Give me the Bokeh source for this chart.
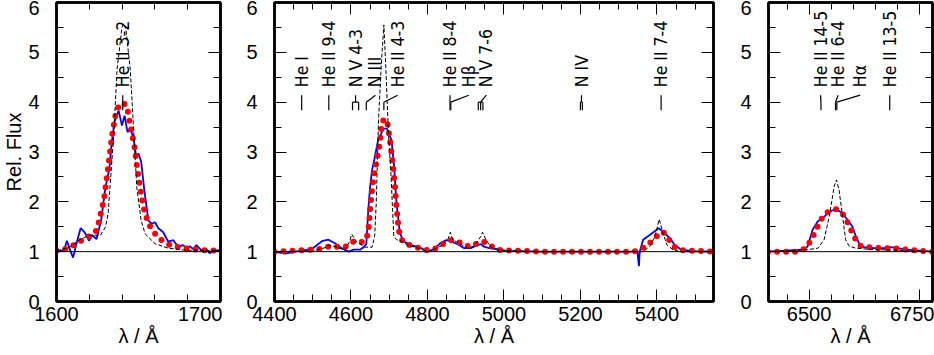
import numpy as np
from bokeh.plotting import figure
from bokeh.layouts import row
from bokeh.models import LinearAxis, FixedTicker, Span, Range1d, CustomLabelingPolicy
from bokeh.core.properties import value
from bokeh.embed import file_html
from bokeh.resources import INLINE

# ---------------- data ----------------
# Panel 1: He II 1640
w1_obs = [1600.0, 1604.6, 1606.3, 1608.3, 1610.1, 1612.7, 1614.7, 1617.3, 1619.8, 1621.8, 1624.4,
          1627.2, 1629.8, 1632.3, 1633.5, 1635.3, 1637.9, 1639.9, 1641.5, 1643.3, 1645.0, 1647.0,
          1648.6, 1650.0, 1651.6, 1653.6, 1656.0, 1658.1, 1660.1, 1662.1, 1665.1, 1668.1, 1671.2,
          1674.2, 1677.2, 1679.2, 1681.3, 1683.3, 1685.3, 1688.3, 1691.3, 1693.3, 1696.4, 1699.4, 1700.0]
f1_obs = [1.02, 1.02, 1.22, 1.03, 0.88, 1.23, 1.47, 1.38, 1.22, 1.33, 1.25, 1.63, 2.28, 2.68, 3.14,
          3.6, 3.83, 3.53, 3.73, 3.4, 3.47, 3.27, 2.91, 2.97, 2.81, 2.22, 1.63, 1.56, 1.59, 1.47, 1.39,
          1.2, 1.23, 1.1, 1.13, 1.07, 1.11, 1.05, 1.13, 1.03, 1.05, 0.97, 1.02, 1.03, 1.03]
w1_mod = [1600, 1607.7, 1613.7, 1619.8, 1623.8, 1625.8, 1628.8, 1631.5, 1633.9, 1636.3, 1638.0,
          1640.3, 1642.9, 1644.6, 1647.4, 1649.0, 1651.0, 1653.0, 1656.0, 1660.1, 1664.1, 1670.2,
          1678.2, 1688.3, 1700]
f1_mod = [1.02, 1.07, 1.2, 1.3, 1.39, 1.59, 2.02, 2.68, 3.34, 3.8, 3.92, 3.99, 3.93, 3.6, 3.14, 2.74,
          2.28, 1.89, 1.56, 1.36, 1.23, 1.11, 1.07, 1.03, 1.02]
w1_mod2 = [1600, 1607.7, 1613.7, 1619.8, 1626.8, 1629.8, 1631.5, 1632.3, 1634.9, 1636.9, 1639.9,
           1641.0, 1642.3, 1645.0, 1647.0, 1649.0, 1651.6, 1654.0, 1660.1, 1668.1, 1678.2, 1700]
f1_mod2 = [1.02, 1.08, 1.23, 1.33, 1.33, 1.49, 1.76, 2.15, 3.34, 4.65, 5.5, 5.58, 5.47, 4.65, 3.47,
           2.28, 1.63, 1.36, 1.16, 1.07, 1.03, 1.02]

# Panel 2: optical
w2_obs = [4400, 4428, 4462, 4497, 4524, 4541, 4558, 4576, 4594, 4607, 4624, 4633, 4640, 4645, 4650,
          4655, 4661, 4671, 4685, 4694, 4706, 4713, 4719, 4728, 4737, 4758, 4784, 4801, 4818, 4835,
          4848, 4861, 4879, 4896, 4913, 4931, 4940, 4948, 4961, 4983, 5009, 5100, 5200, 5300, 5349,
          5353, 5355, 5364, 5382, 5405, 5416, 5434, 5447, 5464, 5494, 5548]
f2_obs = [1.0, 0.96, 1.01, 1.05, 1.21, 1.24, 1.17, 1.07, 1.0, 1.04, 1.04, 1.09, 1.15, 1.8, 2.3, 2.63,
          2.85, 3.24, 3.47, 3.47, 3.24, 2.7, 1.97, 1.37, 1.21, 1.13, 1.07, 1.0, 1.05, 1.18, 1.23, 1.21,
          1.15, 1.07, 1.07, 1.13, 1.15, 1.1, 1.07, 1.05, 1.01, 1.0, 1.0, 1.0, 1.0, 0.71, 1.0, 1.24,
          1.34, 1.47, 1.4, 1.27, 1.13, 1.04, 1.01, 1.0]
w2_mod = [4400, 4480, 4524, 4541, 4558, 4576, 4589, 4602, 4615, 4628, 4640, 4646, 4650, 4655, 4660,
          4668, 4675, 4681, 4688, 4695, 4703, 4710, 4715, 4719, 4724, 4728, 4737, 4754, 4775, 4801,
          4818, 4835, 4853, 4866, 4879, 4896, 4913, 4931, 4944, 4957, 4974, 4992, 5100, 5340, 5354,
          5373, 5390, 5408, 5416, 5429, 5447, 5464, 5548]
f2_mod = [1.0, 1.03, 1.06, 1.1, 1.11, 1.08, 1.11, 1.19, 1.22, 1.19, 1.24, 1.45, 1.84, 2.24, 2.55,
          2.85, 3.15, 3.6, 3.67, 3.6, 3.17, 2.71, 2.3, 1.9, 1.5, 1.31, 1.19, 1.13, 1.08, 1.03, 1.05,
          1.13, 1.21, 1.24, 1.21, 1.13, 1.1, 1.17, 1.21, 1.17, 1.07, 1.03, 1.0, 1.0, 1.04, 1.11, 1.24,
          1.37, 1.4, 1.27, 1.09, 1.03, 1.0]
w2_mod2 = [4400, 4500, 4532, 4541, 4560, 4584, 4596, 4602, 4615, 4637, 4655, 4662, 4666, 4672, 4679,
           4686, 4691, 4698, 4705, 4708, 4712, 4719, 4732, 4749, 4775, 4801, 4835, 4853, 4860, 4866,
           4887, 4905, 4922, 4940, 4944, 4953, 4966, 4983, 5100, 5364, 5382, 5395, 5406, 5416, 5426,
           5442, 5460, 5548]
f2_mod2 = [1.0, 1.01, 1.08, 1.13, 1.1, 1.03, 1.2, 1.35, 1.19, 1.09, 1.09, 1.31, 1.97, 3.64, 4.71,
           5.55, 4.71, 3.37, 2.5, 1.97, 1.31, 1.24, 1.21, 1.13, 1.07, 1.0, 1.11, 1.24, 1.39, 1.24,
           1.15, 1.07, 1.11, 1.31, 1.39, 1.24, 1.09, 1.03, 1.0, 1.0, 1.11, 1.31, 1.65, 1.37, 1.14,
           1.04, 1.0, 1.0]

# Panel 3: H-alpha
w3_obs = [6407, 6489, 6497, 6508, 6520, 6531, 6542, 6553, 6565, 6576, 6587, 6598, 6606, 6613, 6625,
          6647, 6670, 6685, 6700, 6722, 6752, 6780]
f3_obs = [1.0, 1.04, 1.11, 1.44, 1.61, 1.67, 1.77, 1.83, 1.83, 1.77, 1.64, 1.51, 1.31, 1.17, 1.09,
          1.07, 1.07, 1.09, 1.07, 1.04, 1.02, 1.0]
w3_mod = [6407, 6475, 6493, 6505, 6516, 6527, 6538, 6550, 6561, 6572, 6583, 6595, 6606, 6617, 6632,
          6662, 6692, 6722, 6780]
f3_mod = [1.0, 1.0, 1.07, 1.24, 1.44, 1.64, 1.77, 1.83, 1.85, 1.81, 1.67, 1.44, 1.24, 1.12, 1.09,
          1.07, 1.07, 1.04, 1.0]
w3_mod2 = [6407, 6497, 6520, 6534, 6546, 6557, 6562, 6568, 6576, 6583, 6591, 6606, 6647, 6692, 6780]
f3_mod2 = [1.0, 1.04, 1.07, 1.24, 1.71, 2.31, 2.44, 2.24, 1.71, 1.24, 1.11, 1.07, 1.04, 1.03, 1.0]

# Line identifications: label, component wavelengths, label position
id1_text = ["He II 3-2"]
id1_lines = [[1640.4]]
id1_pos = [1640.4]
id2_text = ["He I", "He II 9-4", "N V 4-3", "N III", "He II 4-3", "He II 8-4", "H\u03b2", "N V 7-6",
            "N IV", "He II 7-4"]
id2_lines = [[4471], [4542], [4604, 4620], [4640], [4686], [4859], [4861], [4933, 4939, 4945],
             [5200, 5205], [5411]]
id2_pos = [4471, 4542, 4612, 4664, 4722, 4859, 4908, 4954, 5203, 5411]
id3_text = ["He II 14-5", "He II 6-4", "H\u03b1", "He II 13-5"]
id3_lines = [[6527], [6560], [6563], [6683]]
id3_pos = [6526, 6566, 6616, 6683]

# Axes
x1_range = (1600, 1700)
x1_major = [1600, 1700]
x1_minor = [1620, 1640, 1660, 1680]
x2_range = (4400, 5548)
x2_major = [4400, 4600, 4800, 5000, 5200, 5400]
x2_minor = list(range(4450, 5550, 50))
x3_range = (6408, 6780)
x3_major = [6500, 6750]
x3_minor = list(range(6450, 6800, 50))
y_range = (0, 6)
y_major = [0, 1, 2, 3, 4, 5, 6]
y_minor = [0.5, 1.5, 2.5, 3.5, 4.5, 5.5]
continuum = 1.0

# ---------------- styling ----------------
FONT = "Liberation Sans"
ID_FONT = "Liberation Sans Narrow, DejaVu Sans Condensed, sans-serif"
FH = 299
Y_FOOT, Y_BAR, Y_TOP, Y_TEXT = 3.84, 4.0, 4.14, 4.3
Y_STANDOFF = 17
X_STANDOFF = 5

HIDE_ALL = """
try {
  for (const i of Array.from(indices)) { indices.unset(i) }
} catch (e) {}
return indices
"""


def style_axis(ax, labels, standoff):
    ax.major_tick_in = 12
    ax.major_tick_out = 0
    ax.minor_tick_in = 7
    ax.minor_tick_out = 0
    ax.major_tick_line_color = "black"
    ax.minor_tick_line_color = "black"
    ax.major_tick_line_width = 1
    ax.minor_tick_line_width = 1
    ax.axis_line_color = "black"
    ax.axis_line_width = 2.5
    ax.major_label_text_font = FONT
    ax.major_label_text_color = "black"
    ax.axis_label_text_font = FONT
    ax.axis_label_text_font_size = "20px"
    ax.axis_label_text_font_style = "normal"
    ax.axis_label_text_color = "black"
    if labels:
        ax.major_label_text_font_size = "20px"
        ax.major_label_standoff = standoff
    else:
        ax.major_label_text_font_size = "0px"
        ax.major_label_standoff = 0
        ax.major_label_policy = CustomLabelingPolicy(code=HIDE_ALL)


def panel(xr, xmaj, xmin, fw, bl, br, ylabel, obs, mod, mod2, ids):
    p = figure(x_range=Range1d(*xr), y_range=Range1d(*y_range), frame_width=fw, frame_height=FH,
               min_border_left=bl, min_border_right=br, min_border_top=2, min_border_bottom=0,
               output_backend="svg", toolbar_location=None,
               background_fill_color="white", border_fill_color="white")
    p.xgrid.visible = False
    p.ygrid.visible = False
    p.outline_line_color = "black"
    p.outline_line_width = 2.5

    xt = FixedTicker(ticks=xmaj, minor_ticks=xmin)
    yt = FixedTicker(ticks=y_major, minor_ticks=y_minor)
    xa = p.xaxis[0]
    ya = p.yaxis[0]
    xa.ticker = xt
    ya.ticker = yt
    style_axis(xa, True, X_STANDOFF)
    xa.axis_label = "\u03bb / \u00c5"
    xa.axis_label_standoff = 1
    style_axis(ya, True, Y_STANDOFF)
    if ylabel:
        ya.axis_label = ylabel
        ya.axis_label_standoff = 0
    top = LinearAxis(ticker=xt)
    style_axis(top, False, 0)
    p.add_layout(top, "above")
    right = LinearAxis(ticker=yt)
    style_axis(right, False, 0)
    p.add_layout(right, "right")

    p.add_layout(Span(location=continuum, dimension="width", line_color="black", line_width=1))

    p.line(obs[0], obs[1], line_color="#0000ff", line_width=1.8)
    p.line(mod[0], mod[1], line_color="#ff0000", line_width=6, line_dash="0 9", line_cap="round")
    p.line(mod2[0], mod2[1], line_color="black", line_width=1, line_dash="4 2")

    names, lines, pos = ids
    x0, y0, x1, y1 = [], [], [], []
    for comps, lp in zip(lines, pos):
        lo, hi = min(comps), max(comps)
        for c in comps:
            x0.append(c); y0.append(Y_FOOT); x1.append(c); y1.append(Y_BAR)
        if len(comps) > 1:
            x0.append(lo); y0.append(Y_BAR); x1.append(hi); y1.append(Y_BAR)
        ctr = 0.5 * (lo + hi)
        x0.append(ctr); y0.append(Y_BAR); x1.append(lp); y1.append(Y_TOP)
    p.segment(x0=x0, y0=y0, x1=x1, y1=y1, line_color="black", line_width=1.2)
    p.text(x=pos, y=[Y_TEXT] * len(pos), text=names, angle=np.pi / 2, text_align="left",
           text_baseline="middle", text_font=value(ID_FONT), text_font_size="17.5px",
           text_color="black")
    return p


p1 = panel(x1_range, x1_major, x1_minor, 164, 54, 2, "Rel. Flux",
           (w1_obs, f1_obs), (w1_mod, f1_mod), (w1_mod2, f1_mod2), (id1_text, id1_lines, id1_pos))
p2 = panel(x2_range, x2_major, x2_minor, 439, 52, 2, None,
           (w2_obs, f2_obs), (w2_mod, f2_mod), (w2_mod2, f2_mod2), (id2_text, id2_lines, id2_pos))
p3 = panel(x3_range, x3_major, x3_minor, 164, 53, 2, None,
           (w3_obs, f3_obs), (w3_mod, f3_mod), (w3_mod2, f3_mod2), (id3_text, id3_lines, id3_pos))

layout = row(p1, p2, p3)
open("out.html", "w").write(file_html(layout, INLINE))
